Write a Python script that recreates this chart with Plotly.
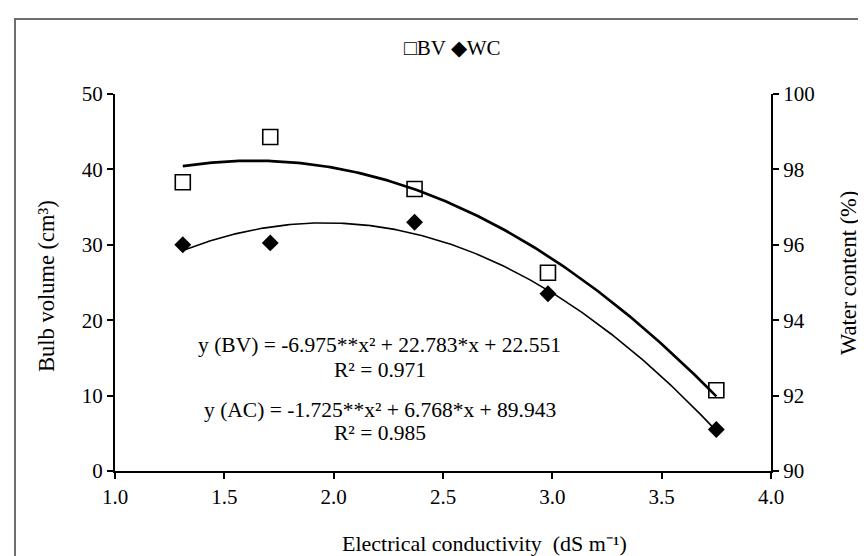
import numpy as np
import plotly.graph_objects as go

# ---- data ----
ec = [1.31, 1.71, 2.37, 2.98, 3.75]          # Electrical conductivity (dS m-1)
bv = [38.3, 44.3, 37.4, 26.3, 10.7]          # Bulb volume (cm3)
wc = [96.0, 96.05, 96.6, 94.7, 91.1]         # Water content (%)
bv_coef = [-6.975, 22.783, 22.551]           # quadratic trendline BV
wc_coef = [-1.725, 6.768, 89.943]            # quadratic trendline WC (AC)
x_ticks = [1.0, 1.5, 2.0, 2.5, 3.0, 3.5, 4.0]
y1_ticks = [0, 10, 20, 30, 40, 50]
y2_ticks = [90, 92, 94, 96, 98, 100]
legend_text = "□BV ◆WC"
x_title = "Electrical conductivity  (dS m⁻¹)"
y1_title = "Bulb volume (cm³)"
y2_title = "Water content (%)"
eq_bv = "y (BV) = -6.975**x² + 22.783*x + 22.551"
r2_bv = "R² = 0.971"
eq_wc = "y (AC) = -1.725**x² + 6.768*x + 89.943"
r2_wc = "R² = 0.985"

FONT = "Liberation Serif"
TICK = dict(family=FONT, size=21, color="black")
EQ = dict(family=FONT, size=21.5, color="black")
XT = dict(family=FONT, size=22, color="black")
YT = dict(family=FONT, size=22.5, color="black")

xs = np.linspace(min(ec), max(ec), 200)
fig = go.Figure()
fig.add_trace(go.Scatter(x=xs, y=np.polyval(bv_coef, xs), mode="lines",
                         line=dict(color="black", width=2.7), showlegend=False,
                         hoverinfo="skip"))
fig.add_trace(go.Scatter(x=xs, y=np.polyval(wc_coef, xs), mode="lines",
                         line=dict(color="black", width=1.6), showlegend=False,
                         hoverinfo="skip", yaxis="y2"))
fig.add_trace(go.Scatter(x=ec, y=bv, mode="markers", name="BV", showlegend=False,
                         marker=dict(symbol="square-open", size=15, color="black",
                                     line=dict(width=1.6, color="black"))))
fig.add_trace(go.Scatter(x=ec, y=wc, mode="markers", name="WC", yaxis="y2", showlegend=False,
                         marker=dict(symbol="diamond", size=13, color="black",
                                     line=dict(width=0))))

axis_common = dict(showgrid=False, zeroline=False, showline=True, linecolor="black",
                   linewidth=2, ticks="outside", ticklen=6, tickwidth=2,
                   tickcolor="black", tickfont=TICK)

fig.update_layout(
    width=866, height=556,
    margin=dict(l=107, r=103, t=86, b=93),
    paper_bgcolor="white", plot_bgcolor="white",
    font=TICK,
    xaxis=dict(range=[1.0, 4.0], tickvals=x_ticks,
               ticktext=[f"{v:.1f}" for v in x_ticks], **axis_common),
    yaxis=dict(range=[0, 50], tickvals=y1_ticks, **axis_common),
    yaxis2=dict(range=[90, 100], tickvals=y2_ticks, overlaying="y", side="right",
                **axis_common),
    showlegend=False,
)

def px(xp):
    return (xp - 107) / 656

def py(yp):
    return (463 - yp) / 377

# legend (as in the reference: symbols set directly against the labels)
fig.add_annotation(text=legend_text, xref="paper", yref="paper", x=px(444), y=py(40),
                   showarrow=False, xanchor="center", yanchor="middle", font=TICK)

# axis titles (placed where the reference has them)
fig.add_annotation(text=x_title, xref="paper", yref="paper", x=px(476), y=py(535),
                   showarrow=False, xanchor="center", yanchor="middle", font=XT)
fig.add_annotation(text=y1_title, xref="paper", yref="paper", x=px(38), y=py(278),
                   showarrow=False, textangle=-90, xanchor="center", yanchor="middle", font=YT)
fig.add_annotation(text=y2_title, xref="paper", yref="paper", x=px(840), y=py(265),
                   showarrow=False, textangle=-90, xanchor="center", yanchor="middle", font=YT)

# equations
for txt, yv in [(eq_bv, 16.7), (r2_bv, 13.4), (eq_wc, 8.1), (r2_wc, 5.0)]:
    fig.add_annotation(text=txt, x=2.21, y=yv, xref="x", yref="y", showarrow=False,
                       xanchor="center", yanchor="middle", font=EQ)

# outer chart border (cropped at right/bottom in the reference)
fig.add_shape(type="rect", xref="paper", yref="paper",
              x0=px(7), x1=px(880), y0=py(570), y1=py(11),
              line=dict(color="#6e6e6e", width=2), fillcolor="rgba(0,0,0,0)", layer="below")

fig.write_html("out.html")
